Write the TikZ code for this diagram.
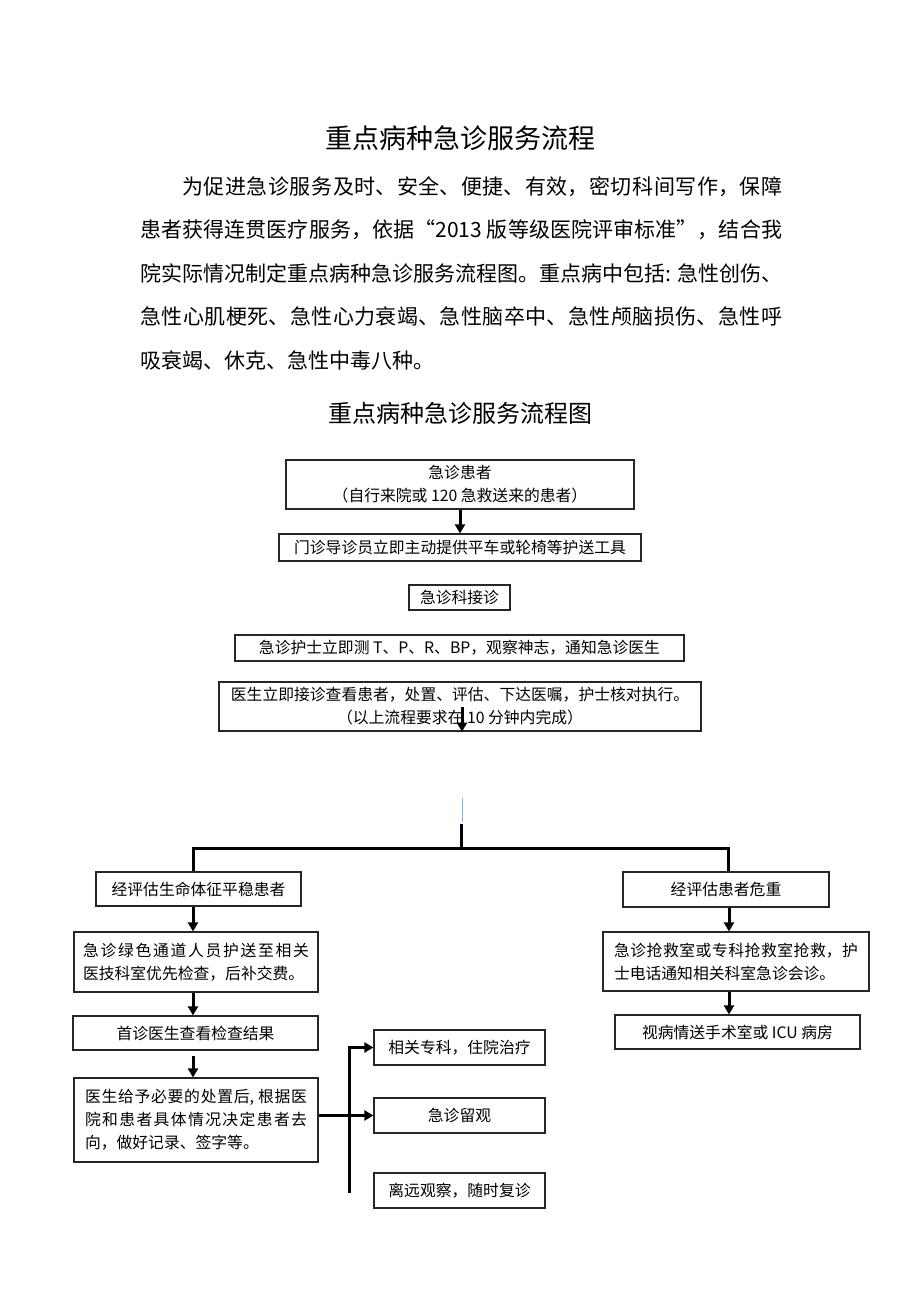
\documentclass[tikz,border=0pt]{standalone}
\usepackage{fontspec}
\setmainfont{Noto Sans CJK SC}
\usetikzlibrary{arrows.meta}
\XeTeXlinebreaklocale "zh"
\XeTeXlinebreakskip=0pt plus 3pt
\begin{document}
\begin{tikzpicture}[x=1pt,y=-1pt,
  box/.style={draw=black!85, line width=1.2pt, inner sep=2pt, font=\fontsize{15.8}{23}\selectfont},
  conn/.style={line width=3pt, line join=miter},
  arr/.style={conn, -{Triangle[length=9pt,width=10pt]}}]
\path[use as bounding box, fill=white] (0,0) rectangle (920,1302);

\node[font=\fontsize{27}{30}\selectfont] (t) at (460,138) {重点病种急诊服务流程};
\node[anchor=north west, text width=642pt, align=justify, inner sep=0pt,
      font=\fontsize{21}{43.5}\selectfont] (p) at (140,176)
{\hspace*{42pt}为促进急诊服务及时、安全、便捷、有效，密切科间写作，保障\linebreak
患者获得连贯医疗服务，依据“2013 版等级医院评审标准”，结合我\linebreak
院实际情况制定重点病种急诊服务流程图。重点病中包括: 急性创伤、\linebreak
急性心肌梗死、急性心力衰竭、急性脑卒中、急性颅脑损伤、急性呼\linebreak
吸衰竭、休克、急性中毒八种。};
\node[font=\fontsize{24}{28}\selectfont] (st) at (460,413) {重点病种急诊服务流程图};

\node[box, minimum width=348, minimum height=49, align=center] (a) at (460,484.5) {急诊患者\\（自行来院或 120 急救送来的患者）};
\node[box, minimum width=362, minimum height=27] (b) at (460,547.5) {门诊导诊员立即主动提供平车或轮椅等护送工具};
\node[box, minimum width=101, minimum height=25] (c) at (459.5,597.5) {急诊科接诊};
\node[box, minimum width=449, minimum height=26] (d) at (459.5,648) {急诊护士立即测 T、P、R、BP，观察神志，通知急诊医生};
\node[box, minimum width=482, minimum height=49, align=center] (e) at (460,706.5) {医生立即接诊查看患者，处置、评估、下达医嘱，护士核对执行。\\（以上流程要求在 10 分钟内完成）};

\draw[arr] (a.south) -- (b.north);
\coordinate (e1) at (462,707);
\draw[arr] (e1) -- (e.south -| e1);

\coordinate (bl1) at (462,798);
\coordinate (bl2) at (462,822);
\draw[color={rgb,255:red,143;green,170;blue,220}, line width=1pt] (bl1) -- (bl2);

\node[box, minimum width=205, minimum height=34] (f) at (198.5,889) {经评估生命体征平稳患者};
\node[box, minimum width=244, minimum height=60, text width=226pt, inner xsep=9pt, align=justify] (g) at (196,962)
  {急诊绿色通道人员护送至相关\linebreak \mbox{医技科室优先检查，后补交费。}};
\node[box, minimum width=245, minimum height=34] (h) at (195.5,1033) {首诊医生查看检查结果};
\node[box, minimum width=244, minimum height=84, text width=222pt, inner xsep=11pt, align=justify] (i) at (196,1120)
  {医生给予必要的处置后, 根据医\linebreak 院和患者具体情况决定患者去\linebreak 向，做好记录、签字等。};

\node[box, minimum width=171, minimum height=35] (j) at (459.5,1047.5) {相关专科，住院治疗};
\node[box, minimum width=171, minimum height=35] (k) at (459.5,1115.5) {急诊留观};
\node[box, minimum width=171, minimum height=35] (l) at (459.5,1190.5) {离远观察，随时复诊};

\node[box, minimum width=206, minimum height=35] (m) at (726,889.5) {经评估患者危重};
\node[box, minimum width=266, minimum height=59, text width=244pt, inner xsep=11pt, align=justify] (n) at (736,961.5)
  {急诊抢救室或专科抢救室抢救，护\linebreak \mbox{士电话通知相关科室急诊会诊。}};
\node[box, minimum width=245, minimum height=34] (o) at (737.5,1032) {视病情送手术室或 ICU 病房};

\coordinate (j0) at (461,824);
\coordinate (jj) at (461,848);
\coordinate (jl) at (193,848);
\coordinate (jr) at (728,848);
\draw[conn] (j0) -- (jj);
\draw[conn] (jl |- f.north) -- (jl) -- (jr) -- (jr |- m.north);

\coordinate (xl) at (193,0);
\coordinate (xr) at (729,0);
\draw[arr] (f.south -| xl) -- (g.north -| xl);
\draw[arr] (g.south -| xl) -- (h.north -| xl);
\draw[arr] ([yshift=-5pt]h.south -| xl) -- (i.north -| xl);
\draw[arr] (m.south -| xr) -- (n.north -| xr);
\draw[arr] (n.south -| xr) -- (o.north -| xr);

\coordinate (v) at (349,0);
\coordinate (vb) at (349,1193);
\draw[arr] (i.east |- k.west) -- (k.west);
\draw[arr] (vb) -- (v |- j.west) -- (j.west);
\end{tikzpicture}
\end{document}
